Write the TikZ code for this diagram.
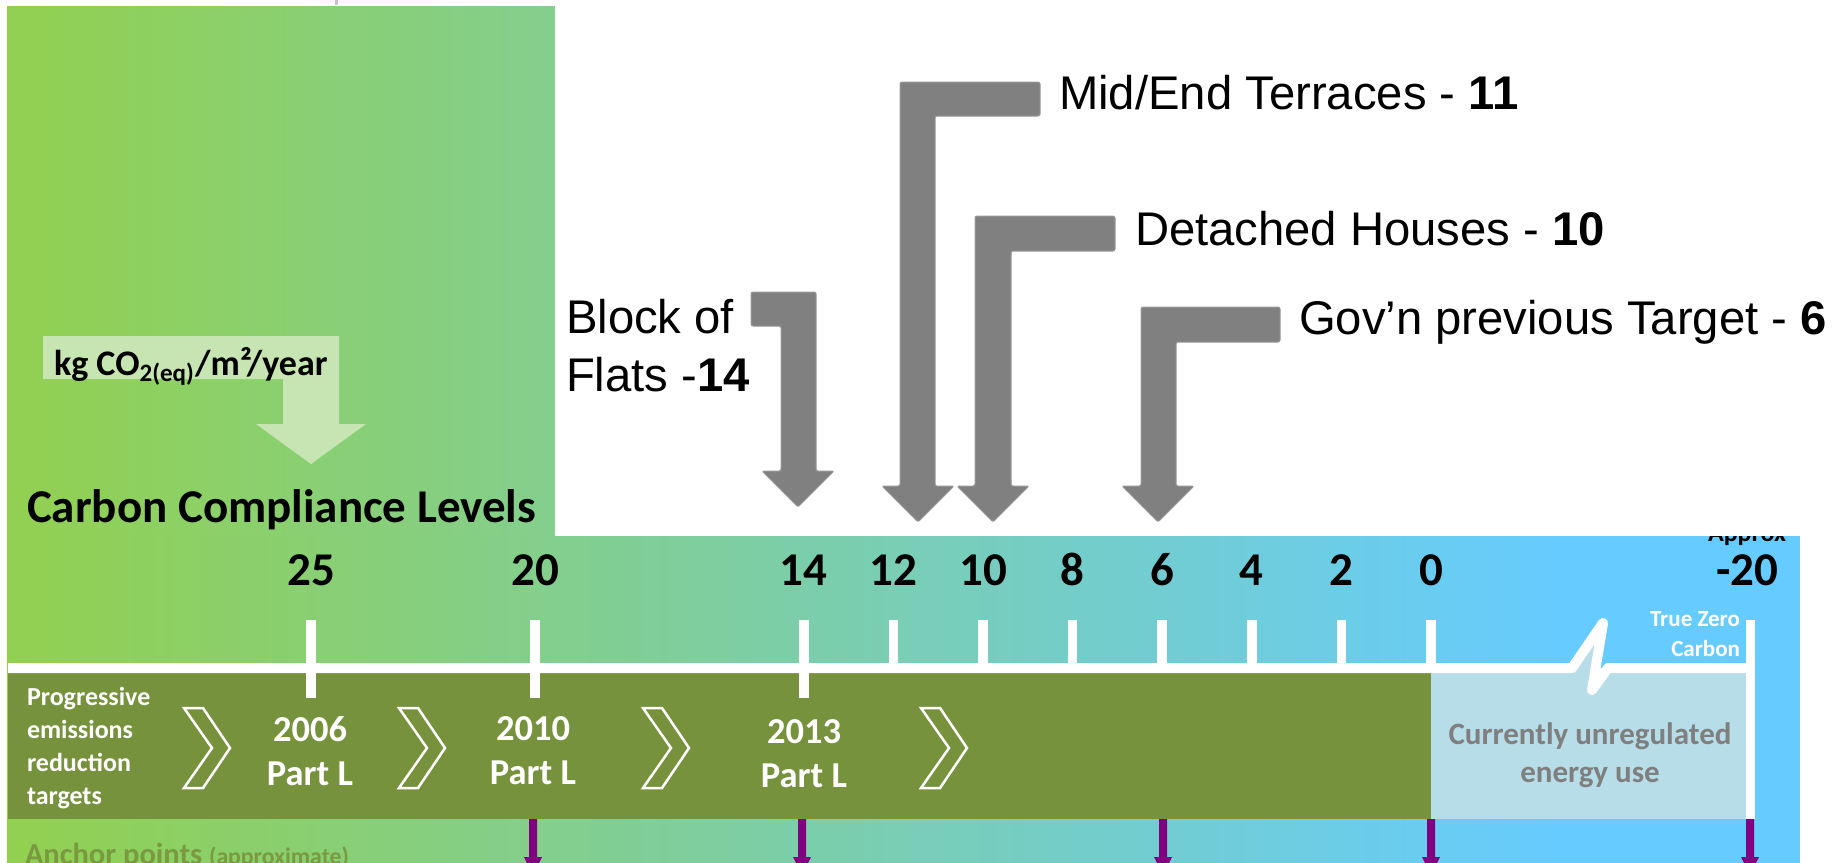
\documentclass[tikz,border=0pt]{standalone}
\usepackage{fontspec}
\setmainfont{Carlito}
\newfontfamily\arialf{Liberation Sans}
\definecolor{gA}{HTML}{92D050}
\definecolor{gB}{RGB}{131,207,142}
\definecolor{bl}{HTML}{66CCFF}
\definecolor{olive}{HTML}{76923C}
\definecolor{unreg}{HTML}{B7DDE8}
\definecolor{kgbox}{HTML}{C6E5B3}
\definecolor{arrgrey}{HTML}{808080}
\definecolor{purp}{HTML}{800080}
\definecolor{anch}{HTML}{7A9A40}
\definecolor{txtgrey}{HTML}{7F7F7F}
\newcommand{\fs}[2]{\fontsize{#1}{#2}\selectfont}
\begin{document}
\begin{tikzpicture}[x=0.4pt,y=-0.4pt,
  every node/.style={inner sep=0pt,outer sep=0pt},
  scalenum/.style={font=\bfseries\fs{18.8}{22},anchor=base},
  tickline/.style={draw=white,line width=3.8pt},
  greyarrow/.style={fill=arrgrey,draw=arrgrey!80!white,line width=0.4pt,rounded corners=0.8pt},
  bigarial/.style={font=\arialf\fs{18.9}{23.2},anchor=base west},
  chevron/.style={draw=white,line width=1pt,line join=miter},
  purparrow/.style={fill=purp},
  bandtext/.style={text=white,font=\bfseries\fs{14.6}{17.6},align=center},
]
\useasboundingbox (0,0) rectangle (1845,862);
\clip (0,0) rectangle (1845,862);
% backgrounds
\shade[left color=gA,right color=gB] (7,6) rectangle (555,537);
\shade[left color=gA,right color=bl] (7,536) rectangle (1560,870);
\fill[bl] (1559,536) rectangle (1800,870);
\draw[gray!45,line width=1.2pt] (336,0) -- (336,5);
% Approx (partly hidden)
\node[font=\bfseries\fs{10.4}{12},anchor=base] (approx) at (1747,541) {Approx};
\fill[white] (555,0) rectangle (1845,536);
% kg label arrow
\fill[kgbox] (43,336) -- (339,336) -- (339,424) -- (366,424) -- (311,464) -- (256,424) -- (283,424) -- (283,379) -- (43,379) -- cycle;
\node[font=\bfseries\fs{14.4}{16},anchor=base west] (kg) at (54,375) {kg CO\textsubscript{2(eq)}/m²/year};
\node[font=\bfseries\fs{18.8}{22},anchor=base west] (ccl) at (27,522) {Carbon Compliance Levels};
% bands
\fill[olive] (8,673) rectangle (1431,819);
\fill[unreg] (1431,668) rectangle (1750,819);
\fill[unreg] (1572,668) -- (1603,623) -- (1592,690) -- (1608,668) -- cycle;
\draw[white,line width=4pt,line join=round] (8,668) -- (1572,668) -- (1603,623) -- (1592,690) -- (1608,668) -- (1750,668);
% ticks and numbers
\foreach \v in {25,20,14,12,10,8,6,4,2,0} {
  \pgfmathsetmacro\xx{1431-44.8*\v}
  \coordinate (t\v) at (\xx,620);
  \draw[tickline] (\xx,620) -- (\xx,668);
  \node[scalenum] (n\v) at (\xx,585) {\v};
}
\foreach \v in {25,20,14} {
  \pgfmathsetmacro\xx{1431-44.8*\v}
  \draw[tickline] (\xx,668) -- (\xx,698);
}
\node[scalenum] (nm20) at (1747,585) {-20};
\draw[white,line width=3.6pt] (1750,620) -- (1750,819);
% chevrons
\foreach \cx in {184,399,643,921} {
  \draw[chevron] (\cx,708) -- ++(19,0) -- ++(27,40) -- ++(-27,40) -- ++(-19,0) -- ++(28,-40) -- cycle;
}
% band texts
\node[text=white,font=\bfseries\fs{10.4}{13.2},align=left,anchor=west] (prog) at (27,748) {Progressive\\emissions\\reduction\\targets};
\node[bandtext] (p2006) at (310,751) {2006\\Part L};
\node[bandtext] (p2010) at (533,751) {2010\\Part L};
\node[bandtext] (p2013) at (804,754) {2013\\Part L};
\node[text=txtgrey,font=\bfseries\fs{12.4}{15}\selectfont,align=center] (unr) at (1590,755) {Currently unregulated\\energy use};
\node[text=white,font=\bfseries\fs{9.2}{12},align=right,anchor=east] (tzc) at (1740,634) {True Zero\\Carbon};
% purple anchor arrows
\foreach \ax in {533,802,1163,1431,1750} {
  \fill[purparrow] (\ax-4,819) -- (\ax+4,819) -- (\ax+4,857) -- (\ax+9,857) -- (\ax,875) -- (\ax-9,857) -- (\ax-4,857) -- cycle;
}
\node[text=anch,font=\bfseries\fs{12.2}{14},anchor=base west] (anc) at (25,864) {Anchor points {\fs{9.5}{11}(approximate)}};
% grey bent arrows
\draw[greyarrow] (751,292) -- (816,292) -- (816,471) -- (834,471) -- (798,507) -- (762,471) -- (781,471) -- (781,326) -- (751,326) -- cycle;
\draw[greyarrow] (900,82) -- (1040,82) -- (1040,116) -- (935,116) -- (935,486) -- (954,486) -- (918,522) -- (882,486) -- (900,486) -- cycle;
\draw[greyarrow] (975,216) -- (1115,216) -- (1115,251) -- (1011,251) -- (1011,486) -- (1029,486) -- (993,522) -- (957,486) -- (975,486) -- cycle;
\draw[greyarrow] (1141,307) -- (1280,307) -- (1280,342) -- (1176,342) -- (1176,486) -- (1194,486) -- (1158,522) -- (1122,486) -- (1141,486) -- cycle;
% labels
\node[font=\arialf\fs{18.9}{23.2},align=left,anchor=west] (flats) at (566,346) {Block of\\Flats -\textbf{14}};
\node[bigarial] (mid) at (1059,109) {Mid/End Terraces - \textbf{11}};
\node[bigarial] (det) at (1135,245) {Detached Houses - \textbf{10}};
\node[bigarial] (gov) at (1299,334) {Gov’n previous Target - \textbf{6}};
\end{tikzpicture}
\end{document}
